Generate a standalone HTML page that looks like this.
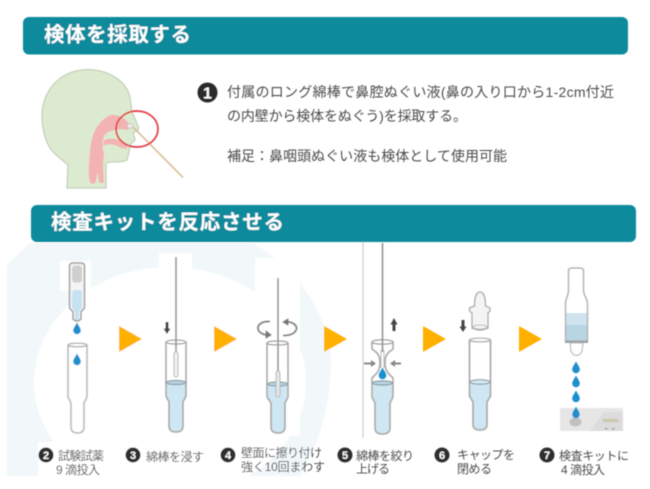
<!DOCTYPE html>
<html lang="ja"><head><meta charset="utf-8">
<style>html,body{margin:0;padding:0;background:#fff;width:650px;height:489px;overflow:hidden}svg{display:block}
text{font-family:"Liberation Sans","Noto Sans CJK JP",sans-serif}</style></head>
<body>
<svg width="650" height="489" viewBox="0 0 650 489" xmlns="http://www.w3.org/2000/svg">
<defs>
<filter id="b" x="-5%" y="-5%" width="110%" height="110%"><feGaussianBlur stdDeviation="0.45"/></filter>
<path id="drop" d="M0 -6.500 C1.500 -3.500 3.800 -1 3.800 1.500 A3.800 3.800 0 0 1 -3.800 1.500 C-3.800 -1 -1.500 -3.500 0 -6.500Z" fill="#1e90cf"/>
</defs>
<g filter="url(#b)">
<!-- pale background -->
<path d="M7 265 L30 243 L253 243 C300 270 332 320 331 365 C330 410 318 445 300 476 L7 476Z" fill="#f2f8fa"/>
<ellipse cx="170" cy="382" rx="136" ry="115" fill="#fff"/>
<rect x="0" y="477" width="650" height="12" fill="#fff"/>
<rect x="255" y="258" width="45" height="178" fill="#fff"/>
<rect x="159" y="253" width="33" height="30" fill="#fff"/>
<rect x="60" y="261" width="31" height="30" fill="#fff"/>
<rect x="38" y="442" width="70" height="34" fill="#fff"/>
<!-- headers -->
<rect x="23" y="17" width="605" height="37.500" rx="6" fill="#0a8a9c"/>
<rect x="31" y="205" width="605" height="37" rx="6" fill="#0a8a9c"/>
<text x="44" y="41.500" font-size="20.500" font-weight="700" fill="#fff" textLength="147" lengthAdjust="spacing">検体を採取する</text>
<text x="51" y="229" font-size="20.500" font-weight="700" fill="#fff" textLength="233" lengthAdjust="spacing">検査キットを反応させる</text>
<!-- head -->
<path d="M67 188 L68 165 C60 158 54 154 50 148 C44 138 42 126 42 115 C43 88 62 70 88 69.500 C112 70 128 84 130 98 L132 112 L138.500 127 C139 131 136 132 133 132 L135 140 L130 145 L129 152 L127 160 C124 162 116 162 110 162 L106 163 L106 188Z" fill="#dcebd0" stroke="#c4cfbc" stroke-width="1.300"/>
<path d="M92 184 C88 182 88 170 90 152 C91 138 94 124 110 115 C116 114 122 117 126 120 L130 126 L128 130 C118 128 108 130 104 136 C102 142 102 148 104 153 L103 165 L104 182 C102 184 100 183 99 182 L97.500 172 L95.500 183 Z" fill="#f4b3b3"/>
<path d="M104 140 C112 137 122 139 127 146 L127 149 L121 148 C115 144 108 143 103 146Z" fill="#f4b3b3"/>
<ellipse cx="130" cy="126" rx="3" ry="2.500" fill="#e8e8e8" stroke="#aaa" stroke-width=".5"/>
<line x1="133" y1="127" x2="183" y2="177.500" stroke="#dab68d" stroke-width="1.500"/>
<ellipse cx="137" cy="129" rx="21" ry="18" fill="none" stroke="#e03a44" stroke-width="1.700"/>
<!-- step 1 text -->
<circle cx="207.500" cy="92.500" r="10" fill="#2a2a2a"/>
<text x="207.500" y="98.500" font-size="16" font-weight="700" fill="#fff" text-anchor="middle">1</text>
<g font-size="14" fill="#4c4c4c">
<text x="227" y="97" textLength="387" lengthAdjust="spacing">付属のロング綿棒で鼻腔ぬぐい液(鼻の入り口から1-2cm付近</text>
<text x="227" y="121" textLength="240" lengthAdjust="spacing">の内壁から検体をぬぐう)を採取する。</text>
<text x="227" y="161" textLength="280" lengthAdjust="spacing">補足：鼻咽頭ぬぐい液も検体として使用可能</text>
</g>
<!-- orange arrows -->
<g fill="#ffb000">
<path d="M119 326 L142 339 L119 352Z"/><path d="M214 326 L237 339 L214 352Z"/><path d="M324 326 L347 339 L324 352Z"/><path d="M423 326 L446 339 L423 352Z"/><path d="M519 326 L542 339 L519 352Z"/>
</g>
<line x1="363" y1="242" x2="363" y2="438" stroke="#c9c9c9" stroke-width="1"/>

<!-- step 2 -->
<path d="M69.500 266 Q69.500 263 73 263 L81 263 Q84.500 263 84.500 266 L84.500 308 L81 312 L81 319 Q77 323 73 319 L73 312 L69.500 308Z" fill="#f4f4f4" stroke="#aaa" stroke-width="1.700"/>
<rect x="72" y="265.500" width="10" height="17" rx="3" fill="#cfcfcf"/>
<path d="M72 294 Q72 290 75 290 L79 290 Q82 290 82 294 L82 308 L79 312 L79 319 Q77 321 75 319 L75 312 L72 308Z" fill="#c6e1f1"/>
<use href="#drop" x="77" y="329"/>
<path d="M68 345 L68 397 L71 403 L71 427 Q71 433 77.500 433 Q84 433 84 427 L84 403 L87 397 L87 345" fill="#fff" stroke="#bdbdbd" stroke-width="1.700"/>
<ellipse cx="77.500" cy="345" rx="9.500" ry="1.800" fill="#fff" stroke="#a8a8a8" stroke-width="1.200"/>
<use href="#drop" x="77" y="360"/>

<!-- step 3 -->
<path d="M167 382 L186 382 L186 396 L183 402 L183 426 Q183 432 176 432 Q169 432 169 426 L169 402 L167 396Z" fill="#cfe6f3"/>
<path d="M166 342 L166 396 L169 402 L169 426 Q169 432 176 432 Q183 432 183 426 L183 402 L186 396 L186 342" fill="none" stroke="#aaa" stroke-width="1.700"/>
<ellipse cx="176" cy="342" rx="10" ry="2" fill="none" stroke="#999" stroke-width="1.200"/>
<ellipse cx="176" cy="382.500" rx="10" ry="2" fill="#b9d6e4" stroke="#8c9aa2" stroke-width="1.200"/>
<line x1="176" y1="257" x2="176" y2="352" stroke="#999" stroke-width="1.700"/>
<rect x="174" y="352" width="4" height="25" rx="2" fill="#f2f2f2" stroke="#b5b5b5" stroke-width="1"/>
<path d="M165.500 322 L165.500 328.500 L163.500 328.500 L167 334 L170.500 328.500 L168.500 328.500 L168.500 322Z" fill="#444"/>

<!-- step 4 -->
<path d="M268 383 L287 383 L287 397 L285 403 L285 427 Q285 433 278 433 Q271 433 271 427 L271 403 L268 397Z" fill="#cfe6f3"/>
<path d="M267 343 L267 397 L271 403 L271 427 Q271 433 278 433 Q285 433 285 427 L285 403 L288 397 L288 343" fill="none" stroke="#aaa" stroke-width="1.700"/>
<ellipse cx="277.500" cy="343" rx="10.500" ry="2" fill="none" stroke="#999" stroke-width="1.200"/>
<ellipse cx="277.500" cy="384" rx="10" ry="2" fill="#b9d6e4" stroke="#8c9aa2" stroke-width="1.200"/>
<line x1="278" y1="278" x2="278" y2="372" stroke="#999" stroke-width="1.700"/>
<rect x="276" y="371" width="4" height="26" rx="2" fill="#e4e8ea" stroke="#b5b5b5" stroke-width="1"/>
<path d="M270 321.500 C260 321 257.500 326 258 329 C259 333 264 335 268 335" fill="none" stroke="#888" stroke-width="2"/>
<path d="M266 331 L271 335 L266 338Z" fill="#777" stroke="#777"/>
<path d="M286 321.500 C294 322 297 326 296.500 329 C295 334 289 335.500 283 335.500" fill="none" stroke="#888" stroke-width="2"/>
<path d="M288 319 L283 322 L288 325Z" fill="#777" stroke="#777"/>

<!-- step 5 -->
<path d="M373 382 L393 382 L393 397 L390 403 L390 428 Q390 434 382.500 434 Q375 434 375 428 L375 403 L373 397Z" fill="#cfe6f3"/>
<path d="M372 342 L372 349 L376 352 C380 356 380 360 380 363 C380 367 379 371 376 374 L372 378 L372 397 L375 403 L375 428 Q375 434 382.500 434 Q390 434 390 428 L390 403 L393 397 L393 378 L389 374 C386 371 385 367 385 363 C385 360 385 356 389 352 L393 349 L393 342" fill="none" stroke="#aaa" stroke-width="1.600"/>
<ellipse cx="382.500" cy="342" rx="10.500" ry="2.200" fill="none" stroke="#999" stroke-width="1.200"/>
<ellipse cx="382.500" cy="383" rx="10" ry="2" fill="#b9d6e4" stroke="#8c9aa2" stroke-width="1.200"/>
<line x1="382.500" y1="243" x2="382.500" y2="352" stroke="#999" stroke-width="1.700"/>
<line x1="381" y1="350" x2="381" y2="368" stroke="#bbb" stroke-width="1"/><line x1="384" y1="350" x2="384" y2="368" stroke="#bbb" stroke-width="1"/>
<use href="#drop" x="382.500" y="374"/>
<path d="M364 362.500 L371 362.500 L371 360 L376 363.500 L371 367 L371 364.500 L364 364.500Z" fill="#888"/>
<path d="M401 362.500 L395 362.500 L395 360 L390 363.500 L395 367 L395 364.500 L401 364.500Z" fill="#888"/>
<path d="M392.500 331 L392.500 324.500 L390.500 324.500 L394 318 L397.500 324.500 L395.500 324.500 L395.500 331Z" fill="#444"/>

<!-- step 6 -->
<path d="M470 382 L490 382 L490 396 L487 402 L487 424 Q487 430 480 430 Q473 430 473 424 L473 402 L470 396Z" fill="#cfe6f3"/>
<path d="M469.500 340 L469.500 396 L473 402 L473 424 Q473 430 480 430 Q487 430 487 424 L487 402 L490.500 396 L490.500 340" fill="none" stroke="#aaa" stroke-width="1.700"/>
<ellipse cx="480" cy="340" rx="10.500" ry="1.800" fill="#fff" stroke="#aaa" stroke-width="1.200"/>
<ellipse cx="480" cy="382" rx="10" ry="2.200" fill="#d5e9f4" stroke="#8c9aa2" stroke-width="1.200"/>
<path d="M474.500 306 C474.500 296 477 292 480 292 C483 292 485.500 296 485.500 306 L490 308 L490 311 L488 313 L488 328 Q480 332 472 328 L472 313 L469.500 311 L469.500 308Z" fill="#f4f4f4" stroke="#aaa" stroke-width="1.300"/>
<ellipse cx="480" cy="327" rx="7" ry="2" fill="none" stroke="#bbb" stroke-width="1"/>
<path d="M461.500 320 L461.500 326.500 L459.500 326.500 L463 332 L466.500 326.500 L464.500 326.500 L464.500 320Z" fill="#444"/>

<!-- step 7 -->
<rect x="566" y="313" width="21" height="13" fill="#cfe4ef"/>
<rect x="566" y="325" width="21" height="17" fill="#b8d5e3"/>
<path d="M568.500 271 Q568.500 268 572 268 L580 268 Q583.500 268 583.500 271 L583.500 290 C583.500 296 587.500 298 587.500 304 L587.500 341 L565.500 341 L565.500 304 C565.500 298 568.500 296 568.500 290Z" fill="none" stroke="#b5b5b5" stroke-width="1.500"/>
<line x1="565" y1="342" x2="588" y2="342" stroke="#8e9aa0" stroke-width="1.800"/>
<path d="M570 343 L583 343 L582 351 Q580 355.500 576.500 355.500 Q573 355.500 571 351Z" fill="#fff" stroke="#bcbcbc" stroke-width="1.200"/>
<use href="#drop" x="576" y="368"/><use href="#drop" x="576" y="382"/><use href="#drop" x="576" y="397"/>
<rect x="560" y="408" width="63" height="23" fill="#dcdcdc"/>
<path d="M590 431 L604 412 L623 412 L623 408 L560 408 L560 431Z" fill="#e6e6e6"/>
<ellipse cx="575.500" cy="422" rx="6" ry="4.500" fill="#c0c0c0"/>
<rect x="603" y="419" width="15" height="3" fill="#c9c7a8"/>
<rect x="605" y="428" width="2.500" height="1.500" fill="#999"/><rect x="612" y="428" width="2.500" height="1.500" fill="#999"/>
<use href="#drop" x="576" y="413"/>

<!-- badges + labels -->
<g fill="#2d2d2d">
<circle cx="46" cy="455" r="7.500"/><circle cx="133" cy="455" r="7.500"/><circle cx="228" cy="455" r="7.500"/><circle cx="345" cy="455" r="7.500"/><circle cx="442" cy="455" r="7.500"/><circle cx="547" cy="455" r="7.500"/>
</g>
<g font-size="11" font-weight="700" fill="#fff" text-anchor="middle">
<text x="46" y="459">2</text><text x="133" y="459">3</text><text x="228" y="459">4</text><text x="345" y="459">5</text><text x="442" y="459">6</text><text x="547" y="459">7</text>
</g>
<g font-size="12" fill="#4c4c4c">
<text x="58" y="460" textLength="46" lengthAdjust="spacing">試験試薬</text>
<text x="56" y="474" textLength="44" lengthAdjust="spacing">9 滴投入</text>
<text x="146" y="461" textLength="58" lengthAdjust="spacing">綿棒を浸す</text>
<text x="241" y="457" textLength="81" lengthAdjust="spacing">壁面に擦り付け</text>
<text x="241" y="471" textLength="84" lengthAdjust="spacing">強く10回まわす</text>
<text x="356" y="460" textLength="58" lengthAdjust="spacing">綿棒を絞り</text>
<text x="356" y="473" textLength="34" lengthAdjust="spacing">上げる</text>
<text x="457" y="459" textLength="58" lengthAdjust="spacing">キャップを</text>
<text x="457" y="473" textLength="35" lengthAdjust="spacing">閉める</text>
<text x="559" y="460" textLength="70" lengthAdjust="spacing">検査キットに</text>
<text x="561" y="474" textLength="44" lengthAdjust="spacing">4 滴投入</text>
</g>
</g>
</svg>
</body></html>
